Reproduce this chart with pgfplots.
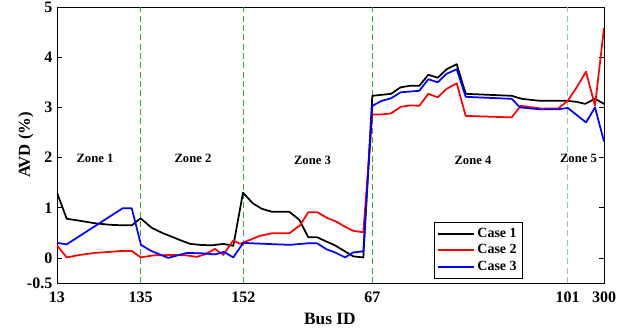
\documentclass[border=0pt]{standalone}
\usepackage{fontspec}
\setmainfont{Liberation Serif}
\usepackage{pgfplots}
\pgfplotsset{compat=1.18}
\definecolor{dgreen}{rgb}{0.2,0.65,0.2}
\definecolor{lgreen}{rgb}{0.55,0.82,0.55}
\begin{document}
\begin{tikzpicture}
\useasboundingbox (-42.75pt,-33.75pt) rectangle (430.5pt,212.25pt);
\begin{axis}[
  at={(0pt,0pt)}, anchor=south west,
  scale only axis, width=410.25pt, height=207pt,
  xmin=57, xmax=604, ymin=-0.5, ymax=5,
  xtick={57,140.7,243.3,372.3,567.7,604},
  xticklabels={13,135,152,67,101,300},
  ytick={-0.5,0,1,2,3,4,5},
  yticklabels={-0.5,0,1,2,3,4,5},
  tick align=inside, xtick pos=both, ytick pos=both,
  major tick length=4pt,
  tick style={black, line width=0.5pt},
  axis line style={black, line width=0.6pt},
  ticklabel style={font=\fontsize{12}{13}\selectfont\bfseries},
  xticklabel style={yshift=-3pt},
  xlabel={Bus ID}, ylabel={AVD (\%)},
  xlabel style={at={(axis description cs:0.499,-0.13)}, anchor=center, font=\fontsize{13}{14}\selectfont\bfseries},
  ylabel style={at={(axis description cs:-0.057,0.5)}, anchor=center, rotate=0, font=\fontsize{12.5}{14}\selectfont\bfseries},
  legend style={at={(axis description cs:0.689,0.017)}, anchor=south west, draw=black, line width=0.6pt,
    font=\fontsize{10.5}{12}\selectfont\bfseries, row sep=0pt, inner sep=2pt},
  legend cell align=left,
  legend image code/.code={\draw[#1] (0cm,0cm) -- (0.95cm,0cm);},
  every axis plot/.append style={line width=1.3pt, line join=round},
]
\addplot[dgreen, line width=0.7pt, dash pattern=on 4.5pt off 2.5pt, forget plot] coordinates {(140.7,-0.5) (140.7,5)};
\addplot[dgreen, line width=0.7pt, dash pattern=on 4.5pt off 2.5pt, forget plot] coordinates {(243.3,-0.5) (243.3,5)};
\addplot[dgreen, line width=0.7pt, dash pattern=on 4.5pt off 2.5pt, forget plot] coordinates {(372.3,-0.5) (372.3,5)};
\addplot[lgreen, line width=0.9pt, dash pattern=on 4.5pt off 2.5pt, forget plot] coordinates {(567.7,-0.5) (567.7,5)};

\addplot[black] coordinates {
(57,1.30) (66.7,0.78) (80,0.74) (95,0.69) (110,0.66) (122,0.65) (132,0.65)
(140.5,0.79) (151.7,0.60) (162,0.50) (173.3,0.41) (182,0.34) (190,0.28) (200,0.26)
(211.7,0.25) (223.3,0.28) (233.3,0.24) (243,1.30) (252.7,1.09) (261.7,0.98)
(271.7,0.92) (289.3,0.92) (299.3,0.76) (308.3,0.41) (317.3,0.41) (326,0.33)
(335,0.25) (345,0.13) (353.3,0.03) (363.3,0.01) (372.3,3.23) (381.7,3.25)
(391,3.27) (400.7,3.40) (410,3.43) (419.3,3.43) (428.3,3.65) (437.7,3.59)
(446.7,3.76) (456.7,3.86) (465.7,3.27) (511.7,3.23) (521.7,3.17) (540,3.13)
(566.7,3.13) (576.7,3.11) (585,3.07) (595,3.17) (604,3.07)};
\addlegendentry{Case 1}

\addplot[red] coordinates {
(57,0.25) (66.7,0.01) (80,0.06) (95,0.10) (110,0.12) (122,0.14) (131.7,0.14)
(140.7,0.01) (153.3,0.05) (173.3,0.06) (186.7,0.05) (196.7,0.02) (206,0.08)
(215,0.18) (223.3,0.06) (233.3,0.35) (240,0.28) (250,0.36) (260,0.44)
(271.7,0.49) (289.3,0.49) (300,0.65) (308.3,0.91) (317.3,0.91) (326.7,0.80)
(336.7,0.72) (345,0.62) (353.3,0.54) (363.3,0.51) (372.3,2.86) (381.7,2.86)
(391,2.88) (400.7,3.01) (410,3.04) (419.3,3.03) (428.3,3.27) (437.7,3.20)
(446.7,3.37) (456.7,3.48) (465.7,2.83) (511.7,2.80) (520.7,3.03) (540,2.98)
(558.3,2.98) (567.7,3.13) (576.7,3.40) (586,3.71) (595,3.03) (604,4.58)};
\addlegendentry{Case 2}

\addplot[blue] coordinates {
(57,0.30) (66.7,0.27) (122.7,0.99) (131.7,0.99) (141,0.26) (151,0.14)
(168.3,0.00) (187,0.10) (203.3,0.09) (215,0.07) (224,0.12) (233.3,0.01)
(243.3,0.30) (253.3,0.29) (290,0.26) (306.7,0.29) (317.3,0.29) (326.7,0.17)
(335,0.11) (345,0.01) (353.3,0.11) (363.3,0.13) (372.3,3.03) (381.7,3.13)
(391,3.18) (400.7,3.30) (419.3,3.33) (428.3,3.56) (437.7,3.50) (446.7,3.67)
(456.7,3.76) (465.7,3.21) (511.7,3.17) (520,3.00) (540,2.96) (558.3,2.96)
(567.7,2.99) (586,2.70) (595,3.00) (604,2.32)};
\addlegendentry{Case 3}

\node[font=\fontsize{9.5}{10}\selectfont\bfseries] at (axis cs:95,1.99) {Zone 1};
\node[font=\fontsize{9.5}{10}\selectfont\bfseries] at (axis cs:193,1.99) {Zone 2};
\node[font=\fontsize{9.5}{10}\selectfont\bfseries] at (axis cs:312.5,1.95) {Zone 3};
\node[font=\fontsize{9.5}{10}\selectfont\bfseries] at (axis cs:473,1.95) {Zone 4};
\node[font=\fontsize{9.5}{10}\selectfont\bfseries] at (axis cs:578.5,1.99) {Zone 5};
\end{axis}
\end{tikzpicture}
\end{document}
